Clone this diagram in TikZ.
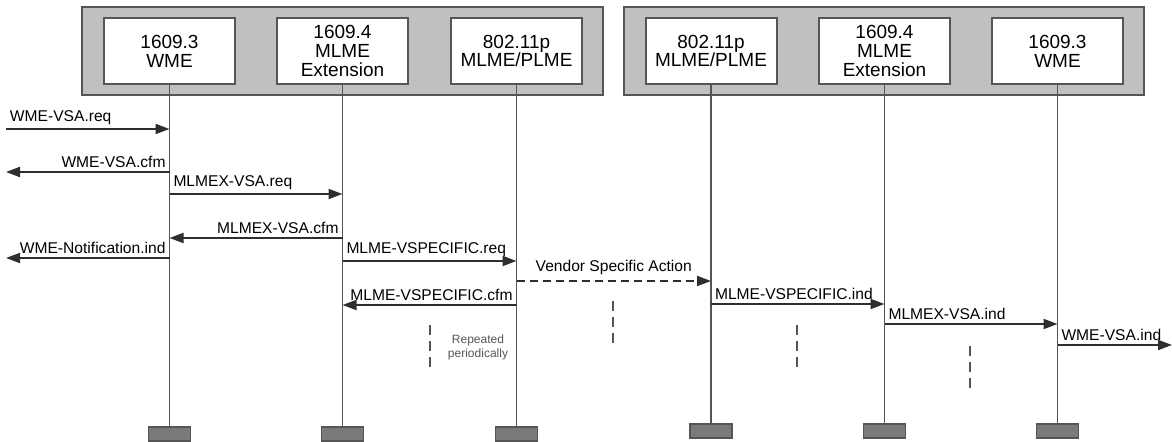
\documentclass[tikz,border=0pt]{standalone}
\usepackage{fontspec}
\setmainfont{Liberation Sans}
\usetikzlibrary{arrows.meta}

\definecolor{grpfill}{HTML}{C0C0C0}
\definecolor{footfill}{HTML}{7A7A7A}
\definecolor{edgegray}{HTML}{555555}
\definecolor{msggray}{HTML}{2E2E2E}

\begin{document}
\begin{tikzpicture}[
        x=0.5pt, y=-0.5pt,
        grpbox/.style={fill=grpfill, draw=edgegray, line width=1pt},
        entbox/.style={fill=white, draw=edgegray, line width=1pt, align=center,
          minimum width=65.5pt, minimum height=33pt, inner sep=0pt,
          font=\fontsize{9.5}{9.4}\selectfont},
        foot/.style={fill=footfill, draw=edgegray, line width=0.8pt,
          minimum width=21pt, minimum height=7pt, inner sep=0pt},
        lifeline/.style={draw=edgegray, line width=0.8pt},
        msg/.style={draw=msggray, line width=1pt,
          -{Triangle[length=7pt, width=5pt]}},
        msglbl/.style={font=\fontsize{7.8}{8}\selectfont, inner sep=1.5pt, pos=0},
        rtlbl/.style={msglbl, anchor=south west},
        ltlbl/.style={msglbl, anchor=south east},
        repmark/.style={draw=edgegray, line width=0.6pt, dash pattern=on 5pt off 3pt}
      ]
      \useasboundingbox (0,0) rectangle (1172,442);
      % the two stations
      \draw[grpbox] (82,7) rectangle (603,95);
      \draw[grpbox] (624,7) rectangle (1144,95);
      \foreach \name/\x/\fy/\txt in {%
        wmeA/169.5/434/{1609.3\\WME},
        mlmexA/342.5/434/{1609.4\\MLME\\Extension},
        macA/516.5/434/{802.11p\\MLME/PLME},
        macB/711/431/{802.11p\\MLME/PLME},
        mlmexB/884.5/431/{1609.4\\MLME\\Extension},
        wmeB/1057.5/431/{1609.3\\WME}%
      }{
        \node[entbox] (\name) at (\x,51) {\txt};
        \node[foot] (\name foot) at (\x,\fy) {};
        \draw[lifeline] (\name) -- (\name foot);
      }
      \coordinate (envL) at (6,0);
      \coordinate (envR) at (1172,0);
      % primitives
      \foreach \src/\dst/\y/\lbl/\lside in {%
        envL/wmeA/129/WME-VSA.req/rtlbl,
        wmeA/envL/172/WME-VSA.cfm/ltlbl,
        wmeA/mlmexA/194/MLMEX-VSA.req/rtlbl,
        mlmexA/wmeA/238/MLMEX-VSA.cfm/ltlbl,
        wmeA/envL/258/WME-Notification.ind/ltlbl,
        mlmexA/macA/261/MLME-VSPECIFIC.req/rtlbl,
        macA/mlmexA/305/MLME-VSPECIFIC.cfm/ltlbl,
        macB/mlmexB/304/MLME-VSPECIFIC.ind/rtlbl,
        mlmexB/wmeB/324/MLMEX-VSA.ind/rtlbl,
        wmeB/envR/345/WME-VSA.ind/rtlbl%
      }{
        \draw[msg] (\src |- 0,\y) -- node[\lside] {\lbl} (\dst |- 0,\y);
      }
      \draw[msg, dash pattern=on 4pt off 2.5pt] (macA |- 0,281) --
        node[msglbl, pos=0.5, anchor=south, yshift=1pt] {Vendor Specific Action} (macB |- 0,281);
      % repetition marks
      \foreach \x/\ya in {430/325, 613/301, 797/325, 970/346}
        \draw[repmark] (\x,\ya) -- ++(0,42);
      \node[font=\fontsize{6}{7}\selectfont, align=center, text=edgegray, inner sep=0pt]
        (repnote) at (478,347) {Repeated\\periodically};
    \end{tikzpicture}
\end{document}
